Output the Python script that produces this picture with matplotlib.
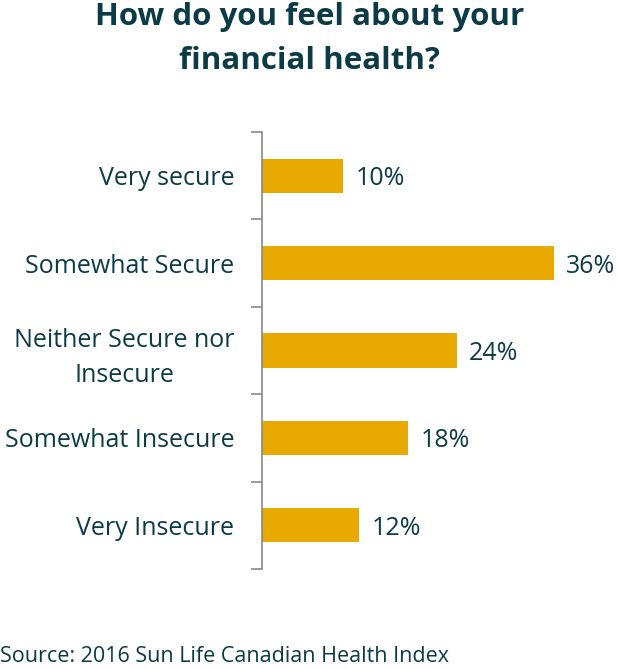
import matplotlib
matplotlib.use("Agg")
import matplotlib.pyplot as plt

categories = ["Very secure", "Somewhat Secure", "Neither Secure nor\nInsecure",
              "Somewhat Insecure", "Very Insecure"]
values = [10, 36, 24, 18, 12]

text_col = "#0B3B46"
bar_col = "#E8AA00"

plt.rcParams['font.family'] = ['Open Sans', 'DejaVu Sans']

fig = plt.figure(figsize=(6.19, 6.69), dpi=100)
ax = fig.add_axes([0.4233, 0.1495, 0.577, 0.6532])

y = list(range(len(categories)))
ax.barh(y, values, height=0.39, color=bar_col)
ax.set_ylim(len(categories) - 0.5, -0.5)
ax.set_xlim(0, 44)

for yi, v in zip(y, values):
    ax.text(v + 1.5, yi, f"{v}%", va="center_baseline", ha="left", fontsize=18, color=text_col)

# category labels without ticks, tick marks at boundaries
ax.set_yticks(y)
ax.set_yticklabels(categories, fontsize=18, color=text_col, linespacing=1.5)
ax.tick_params(axis="y", length=0, pad=20)
ax.set_yticks([i - 0.5 for i in range(len(categories) + 1)], minor=True)
ax.tick_params(axis="y", which="minor", length=8, color="#898989", width=1.2)
for lab in ax.get_yticklabels():
    lab.set_multialignment("center")

ax.set_xticks([])
for s in ["top", "right", "bottom"]:
    ax.spines[s].set_visible(False)
ax.spines["left"].set_color("#898989")
ax.spines["left"].set_linewidth(1.2)

fig.text(0.5, 0.997, "How do you feel about your\nfinancial health?", ha="center", va="top",
         fontsize=22.5, fontweight="bold", color=text_col, linespacing=1.6)
fig.text(0.0, 0.003, "Source: 2016 Sun Life Canadian Health Index", ha="left", va="bottom",
         fontsize=15.5, color=text_col)

fig.savefig("out.png", dpi=100)
